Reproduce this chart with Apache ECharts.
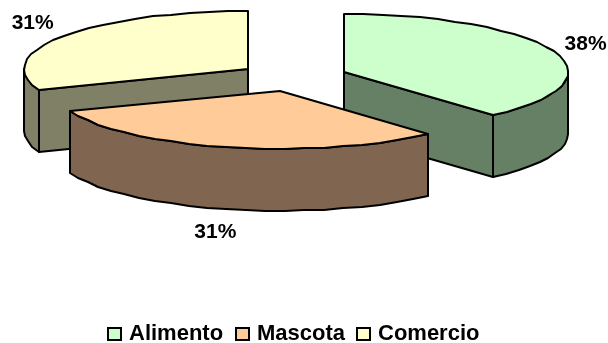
<!DOCTYPE html>
<html><head><meta charset="utf-8">
<script src="https://cdn.jsdelivr.net/npm/echarts@6/dist/echarts.min.js"></script>
<style>html,body{margin:0;padding:0;background:#fff}#c{width:608px;height:343px}</style>
</head><body><div id="c"></div>
<script>
const categories = ['Alimento', 'Mascota', 'Comercio'];
const values = [5, 4, 4];
const topColors = ['#CCFFCC', '#FFCC99', '#FFFFCC'];
const sideColors = ['#668066', '#806650', '#808066'];
const labelOffsets = [[32, -7], [-11, 85], [-31, -13]];
const legendLefts = [107, 235, 356];

const CX = 293, CY = 77, RX = 224, RY = 58, DEPTH = 62, EXPLODE = 0.244, STEP = 5;
const FONT = 'Liberation Sans, Arial, sans-serif';
const total = values.reduce((a, b) => a + b, 0);
const starts = values.map((_, i) => values.slice(0, i).reduce((a, b) => a + b, 0) / total * 2 * Math.PI);
const ends = values.map((_, i) => values.slice(0, i + 1).reduce((a, b) => a + b, 0) / total * 2 * Math.PI);

function arc(cx, cy, a0, a1, dy) {
  const n = Math.max(2, Math.round((a1 - a0) / (STEP * Math.PI / 180)));
  const pts = [];
  for (let k = 0; k <= n; k++) {
    const a = a0 + (a1 - a0) * k / n;
    pts.push([Math.round(cx + RX * Math.sin(a)), Math.round(cy - RY * Math.cos(a)) + dy]);
  }
  return pts;
}
function poly(points, fill) {
  return { type: 'polygon', shape: { points },
    style: { fill, stroke: '#000', lineWidth: 2, lineJoin: 'round' } };
}
function makeRender(i) {
  return function (params, api) {
    const a0 = starts[i], a1 = ends[i], mid = (a0 + a1) / 2;
    const ax = CX + EXPLODE * RX * Math.sin(mid), ay = CY - EXPLODE * RY * Math.cos(mid);
    const children = [];
    const side = sideColors[i];
    const r0 = Math.max(a0, Math.PI / 2), r1 = Math.min(a1, Math.PI * 1.5);
    if (r1 > r0) {
      const rim = arc(ax, ay, r0, r1, 0);
      const rimLow = arc(ax, ay, r0, r1, DEPTH).reverse();
      children.push(poly(rim.concat(rimLow), side));
    }
    const edge = (a) => [Math.round(ax + RX * Math.sin(a)), Math.round(ay - RY * Math.cos(a))];
    const apex = [Math.round(ax), Math.round(ay)];
    const faces = [];
    if (a1 > Math.PI * 1.5) { faces.push(a0); }
    if (a1 <= Math.PI) { faces.push(a1); }
    faces.forEach(a => {
      const e = edge(a);
      children.push(poly([apex, e, [e[0], e[1] + DEPTH], [apex[0], apex[1] + DEPTH]], side));
    });
    children.push(poly([apex].concat(arc(ax, ay, a0, a1, 0)), topColors[i]));
    children.push({
      type: 'text',
      style: {
        text: Math.round(api.value(0) / total * 100) + '%',
        x: ax + RX * Math.sin(mid) + labelOffsets[i][0],
        y: ay - RY * Math.cos(mid) + labelOffsets[i][1],
        align: 'center', verticalAlign: 'middle',
        font: 'bold 21px ' + FONT, fill: '#000'
      }
    });
    return { type: 'group', children };
  };
}
const drawOrder = [2, 0, 1];
const series = drawOrder.map((i, k) => ({
  type: 'custom', name: categories[i], coordinateSystem: 'none', z: k + 2,
  silent: true, clip: false, animation: false,
  itemStyle: { color: topColors[i], borderColor: '#000', borderWidth: 2 },
  renderItem: makeRender(i), data: [[values[i]]]
}));
const chart = echarts.init(document.getElementById('c'));
chart.setOption({
  animation: false,
  backgroundColor: '#fff',
  legend: categories.map((name, i) => ({
    data: [name], left: legendLefts[i], top: 323, padding: 0, icon: 'rect',
    itemWidth: 13, itemHeight: 12,
    textStyle: { fontFamily: FONT, fontWeight: 'bold', fontSize: 22, color: '#000', padding: [0, 0, 0, 3] },
    selectedMode: false
  })),
  series
});
</script></body></html>
